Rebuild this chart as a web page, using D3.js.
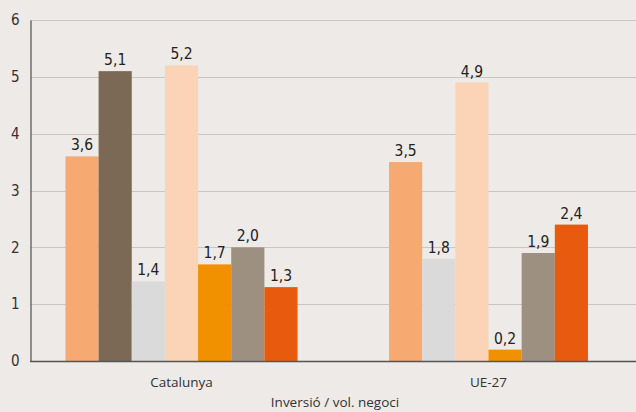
<!DOCTYPE html>
<html><head><meta charset="utf-8">
<script src="https://cdn.jsdelivr.net/npm/d3@7"></script>
<style>
html,body{margin:0;padding:0;background:#EDEAE7;}
svg{display:block;}
</style></head>
<body>
<svg id="chart" width="636" height="412"></svg>
<script>
const categories = ["Catalunya", "UE-27"];
const seriesNames = ["s1", "s2", "s3", "s4", "s5", "s6", "s7"];
const seriesColors = ["#F6A970", "#7B6956", "#DADADA", "#FBD3B6", "#F29100", "#9E9081", "#E85B0F"];
const catalunyaValues = [3.6, 5.1, 1.4, 5.2, 1.7, 2.0, 1.3];
const ue27Values = [3.5, null, 1.8, 4.9, 0.2, 1.9, 2.4];
const yTicks = [0, 1, 2, 3, 4, 5, 6];
const axisTitle = "Inversió / vol. negoci";

const valuesByCat = [catalunyaValues, ue27Values];
const svg = d3.select("#chart");
const W = 636, H = 412;
const x = d3.scaleBand().domain(categories).range([28, 642]).padding(0);
const y = d3.scaleLinear().domain([0, 6]).range([361, 20]);
const barW = x.bandwidth() * 0.108;
const numFont = "'Liberation Sans Narrow', 'DejaVu Sans Condensed', sans-serif";
const fmt = v => d3.format(".1f")(v).replace(".", ",");

// gridlines
svg.append("g").selectAll("line").data(yTicks.filter(t => t > 0)).join("line")
  .attr("x1", 30).attr("x2", W)
  .attr("y1", d => Math.round(y(d)) + 0.5).attr("y2", d => Math.round(y(d)) + 0.5)
  .attr("stroke", "#C8C6C3").attr("stroke-width", 1);

// y axis
const yAxis = d3.axisLeft(y).tickValues(yTicks).tickSize(0).tickPadding(11).tickFormat(d => d);
const gy = svg.append("g").attr("transform", "translate(30.5,0)").call(yAxis);
gy.select(".domain").attr("stroke", "#6E6E6E").attr("stroke-width", 1.5);
gy.selectAll("text").attr("font-family", numFont).attr("font-size", 15).attr("fill", "#333");

// bars
categories.forEach((cat, ci) => {
  const vals = valuesByCat[ci];
  const present = seriesNames.filter((s, i) => vals[i] !== null);
  const inner = d3.scaleBand().domain(present)
    .range([x(cat) + x.bandwidth() / 2 - present.length * barW / 2,
            x(cat) + x.bandwidth() / 2 + present.length * barW / 2]);
  const data = seriesNames.map((s, i) => ({s, v: vals[i], c: seriesColors[i]})).filter(d => d.v !== null);
  const g = svg.append("g");
  g.selectAll("rect").data(data).join("rect")
    .attr("x", d => inner(d.s)).attr("width", inner.bandwidth())
    .attr("y", d => y(d.v)).attr("height", d => y(0) - y(d.v))
    .attr("fill", d => d.c);
  g.selectAll("text").data(data).join("text")
    .attr("x", d => inner(d.s) + inner.bandwidth() / 2)
    .attr("y", d => y(d.v) - 6)
    .attr("text-anchor", "middle")
    .attr("font-family", numFont).attr("font-size", 15.5).attr("fill", "#222")
    .text(d => fmt(d.v));
});

// x axis
const xAxis = d3.axisBottom(x).tickSize(0).tickPadding(16);
const gx = svg.append("g").attr("transform", "translate(0,361)").call(xAxis);
gx.select(".domain").remove();
gx.selectAll("text").attr("font-family", "'Open Sans', sans-serif").attr("font-size", 13.5).attr("fill", "#333");
svg.append("line").attr("x1", 30).attr("x2", W).attr("y1", 361.5).attr("y2", 361.5)
  .attr("stroke", "#555").attr("stroke-width", 1.5);

svg.append("text").attr("x", 335).attr("y", 407).attr("text-anchor", "middle")
  .attr("font-family", "'Open Sans', sans-serif").attr("font-size", 13.5).attr("fill", "#333")
  .text(axisTitle);
</script>
</body></html>
